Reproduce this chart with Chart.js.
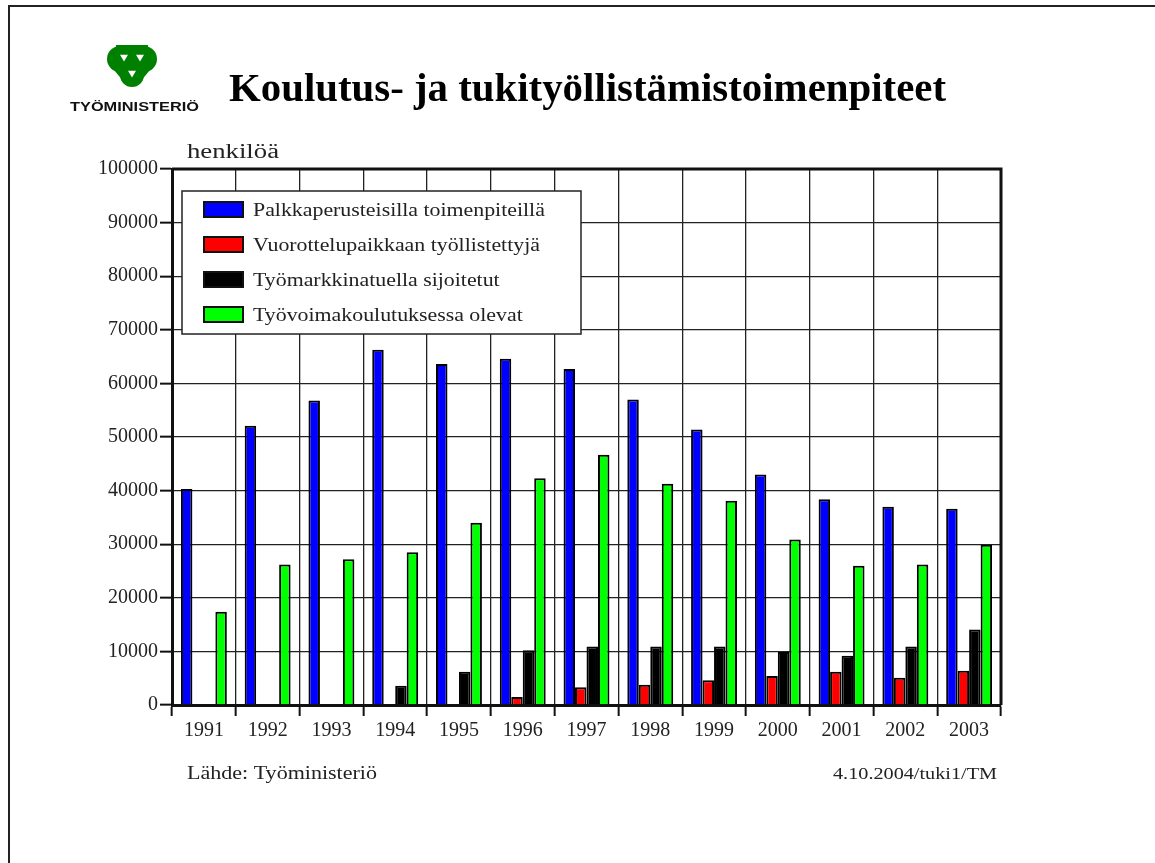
<!DOCTYPE html>
<html>
<head>
<meta charset="utf-8">
<script src="https://cdn.jsdelivr.net/npm/chart.js@4.4.1/dist/chart.umd.min.js"></script>
<style>
  html, body { margin: 0; padding: 0; background: #fff; }
  #wrap { width: 1155px; height: 863px; }
</style>
</head>
<body>
<div id="wrap"><canvas id="canvas" width="1155" height="863"></canvas></div>
<script>
// data
const years = ['1991','1992','1993','1994','1995','1996','1997','1998','1999','2000','2001','2002','2003'];
const palkka = [40300,52100,56800,66300,63600,64600,62700,57000,51400,43000,38400,37000,36600];
const vuorottelu = [0,0,0,0,0,1500,3300,3800,4600,5400,6200,5100,6400];
const tyomarkkina = [0,0,0,3600,6200,10200,10900,10900,10900,9900,9200,10900,14100];
const koulutus = [17400,26200,27200,28500,34000,42300,46700,41300,38100,30900,26000,26200,29900];
const seriesNames = ['Palkkaperusteisilla toimenpiteillä','Vuorottelupaikkaan työllistettyjä','Työmarkkinatuella sijoitetut','Työvoimakoulutuksessa olevat'];
const seriesColors = ['#0000ff','#ff0000','#000000','#00ff00'];

const titleText = 'Koulutus- ja tukityöllistämistoimenpiteet';
const unitText = 'henkilöä';
const sourceText = 'Lähde: Työministeriö';
const stampText = '4.10.2004/tuki1/TM';
const logoText = 'TYÖMINISTERIÖ';

const SERIF = '"Liberation Serif", "DejaVu Serif", serif';
const SANS = '"Liberation Sans", Arial, sans-serif';

// text drawn with a horizontal stretch, like the scanned original
function stretchText(ctx, txt, x, y, font, sx, align) {
  ctx.save();
  ctx.font = font;
  ctx.textBaseline = 'alphabetic';
  ctx.textAlign = 'left';
  const w = ctx.measureText(txt).width * sx;
  let x0 = x;
  if (align === 'right') x0 = x - w;
  ctx.translate(x0, y);
  ctx.scale(sx, 1);
  ctx.fillText(txt, 0, 0);
  ctx.restore();
}

function fitText(ctx, txt, x, y, font, width) {
  ctx.save();
  ctx.font = font;
  const sx = width / ctx.measureText(txt).width;
  ctx.restore();
  stretchText(ctx, txt, x, y, font, sx, 'left');
}

const pagePlugin = {
  id: 'page',
  beforeDraw(chart) {
    const ctx = chart.ctx;
    ctx.save();
    ctx.fillStyle = '#fff';
    ctx.fillRect(0, 0, chart.width, chart.height);
    // page frame
    ctx.strokeStyle = '#222';
    ctx.lineWidth = 2;
    ctx.beginPath();
    ctx.moveTo(9, 863);
    ctx.lineTo(9, 6);
    ctx.lineTo(1155, 6);
    ctx.stroke();

    // logo
    ctx.fillStyle = '#008000';
    ctx.beginPath();
    ctx.arc(120, 59, 13, 0, Math.PI * 2);
    ctx.fill();
    ctx.beginPath();
    ctx.arc(144, 59, 13, 0, Math.PI * 2);
    ctx.fill();
    ctx.beginPath();
    ctx.arc(132, 75, 12, 0, Math.PI * 2);
    ctx.fill();
    ctx.fillRect(116, 45, 32, 20);
    ctx.beginPath();
    ctx.moveTo(109, 64);
    ctx.lineTo(155, 64);
    ctx.lineTo(140, 82);
    ctx.lineTo(124, 82);
    ctx.closePath();
    ctx.fill();
    ctx.fillStyle = '#fff';
    const tri = (cx, cy, s) => {
      ctx.beginPath();
      ctx.moveTo(cx - s, cy - s * 0.8);
      ctx.lineTo(cx + s, cy - s * 0.8);
      ctx.lineTo(cx, cy + s * 0.9);
      ctx.closePath();
      ctx.fill();
    };
    tri(124, 58, 4);
    tri(140, 58, 4);
    tri(132, 74, 4);

    ctx.fillStyle = '#111';
    fitText(ctx, logoText, 70, 111, 'bold 12px ' + SANS, 129);

    // title
    ctx.fillStyle = '#000';
    fitText(ctx, titleText, 229, 101, 'bold 40px ' + SERIF, 717);

    ctx.fillStyle = '#222';
    fitText(ctx, unitText, 187, 158, '20px ' + SERIF, 92);

    // footer
    fitText(ctx, sourceText, 187, 779, '18px ' + SERIF, 190);
    fitText(ctx, stampText, 833, 779, '17px ' + SERIF, 164);
    ctx.restore();
  },
  afterDraw(chart) {
    const ctx = chart.ctx;
    const a = chart.chartArea;
    ctx.save();
    // top and right frame of the plot
    ctx.strokeStyle = '#111';
    ctx.lineWidth = 3;
    ctx.beginPath();
    ctx.moveTo(a.left, a.top);
    ctx.lineTo(a.right, a.top);
    ctx.lineTo(a.right, a.bottom);
    ctx.stroke();

    // legend box
    const bx = 182, by = 191, bw = 399, bh = 143;
    ctx.fillStyle = '#fff';
    ctx.fillRect(bx, by, bw, bh);
    ctx.strokeStyle = '#222';
    ctx.lineWidth = 1.5;
    ctx.strokeRect(bx, by, bw, bh);
    chart.data.datasets.forEach((ds, i) => {
      const y = 202 + i * 35;
      ctx.fillStyle = ds.backgroundColor;
      ctx.fillRect(204, y, 39, 15);
      ctx.strokeStyle = '#111';
      ctx.lineWidth = 2;
      ctx.strokeRect(204, y, 39, 15);
      ctx.fillStyle = '#222';
      stretchText(ctx, ds.label, 253, y + 14, '19px ' + SERIF, 1.15, 'left');
    });
    ctx.restore();
  }
};

const ctx = document.getElementById('canvas');

const seriesData = [palkka, vuorottelu, tyomarkkina, koulutus];

new Chart(ctx, {
  type: 'bar',
  data: {
    labels: years,
    datasets: seriesData.map((d, i) => ({
      label: seriesNames[i],
      data: d,
      backgroundColor: seriesColors[i],
      borderColor: '#000',
      borderWidth: 2,
      categoryPercentage: 0.72,
      barPercentage: 1
    }))
  },
  options: {
    responsive: false,
    animation: false,
    devicePixelRatio: 1,
    layout: { padding: { left: 0, top: 169, right: 154, bottom: 118 } },
    plugins: {
      legend: { display: false },
      tooltip: { enabled: false }
    },
    scales: {
      x: {
        grid: { color: '#222', lineWidth: 1.3, tickLength: 11, tickWidth: 2, tickColor: '#111', offset: true },
        border: { color: '#111', width: 3 },
        ticks: { font: { family: SERIF, size: 20 }, color: '#222', padding: 3, maxRotation: 0 },
        afterFit: s => { s.height = 40; }
      },
      y: {
        min: 0,
        max: 100000,
        grid: { color: '#222', lineWidth: 1.3, tickLength: 12, tickWidth: 2, tickColor: '#111' },
        border: { color: '#111', width: 3 },
        ticks: {
          stepSize: 10000,
          font: { family: SERIF, size: 20 },
          color: '#222',
          padding: 2,
          callback: v => String(v)
        },
        afterFit: s => { s.width = 172; }
      }
    }
  },
  plugins: [pagePlugin]
});
</script>
</body>
</html>
